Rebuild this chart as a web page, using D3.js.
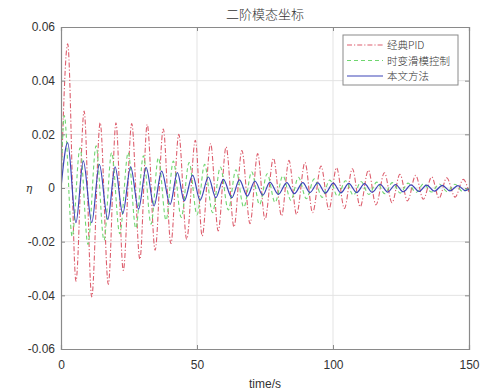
<!DOCTYPE html>
<html>
<head>
<meta charset="utf-8">
<script src="https://cdn.jsdelivr.net/npm/d3@7/dist/d3.min.js"></script>
<style>
  html, body { margin: 0; padding: 0; background: #fff; }
  svg { display: block; }
</style>
</head>
<body>
<svg id="chart" width="483" height="390"></svg>
<script>
// Axis settings
const xTicks = [0, 50, 100, 150];
const yTicks = [-0.06, -0.04, -0.02, 0, 0.02, 0.04, 0.06];
const yTickLabels = ["-0.06", "-0.04", "-0.02", "0", "0.02", "0.04", "0.06"];
const seriesNames = ["经典PID", "时变滑模控制", "本文方法"];

// 经典PID: time (s) of each turning point and the response there
const pidT = [0, 2.46, 5.5, 8.5, 11.3, 14.4, 17.4, 20.2, 22.9, 26.0, 29.0, 31.7, 34.6, 37.6, 40.4, 43.3, 46.2,
  49.4, 51.9, 55.0, 57.8, 60.7, 63.6, 66.5, 69.5, 72.3, 75.0, 78.1, 81.1, 83.8, 86.6, 89.7, 92.5,
  95.6, 98.5, 101.3, 104.2, 107.1, 110.0, 113.0, 115.8, 118.9, 121.7, 124.6, 127.4, 130.4, 133.2,
  136.3, 139.0, 141.8, 144.9, 147.9, 150];
const pidV = [0, 0.0537, -0.0347, 0.0287, -0.0406, 0.0243, -0.0359, 0.0243, -0.0307, 0.0240, -0.0266, 0.0237, -0.0232,
  0.0220, -0.0207, 0.0200, -0.0191, 0.0178, -0.0179, 0.0165, -0.0160, 0.0153, -0.0145, 0.0140, -0.0133,
  0.0128, -0.0117, 0.0111, -0.0104, 0.0103, -0.0098, 0.0095, -0.0092, 0.0082, -0.0080, 0.0076, -0.0076,
  0.0072, -0.0070, 0.0066, -0.0063, 0.0057, -0.0055, 0.0051, -0.0048, 0.0047, -0.0042, 0.0041, -0.0038,
  0.0038, -0.0034, 0.0032, -0.0015];

// 时变滑模控制
const smcT = [0, 1.2, 4.1, 7.0, 9.9, 12.9, 15.8, 18.6, 21.6, 24.7, 27.5, 30.3, 33.1, 35.8, 38.6, 41.3, 44.2,
  47.1, 50.0, 52.8, 55.7, 58.6, 61.5, 64.3, 67.2, 70.1, 73.0, 75.8, 78.7, 81.6, 84.5, 87.3, 90.2,
  93.1, 96.0, 98.8, 101.7, 104.6, 107.5, 110.3, 113.2, 116.1, 119.0, 121.8, 124.7, 127.6, 130.5,
  133.3, 136.2, 139.1, 142.0, 144.8, 147.7, 150];
const smcV = [0, 0.0270, -0.0180, 0.0150, -0.0210, 0.0157, -0.0195, 0.0132, -0.0170, 0.0132, -0.0150, 0.0120, -0.0135,
  0.0113, -0.0120, 0.0100, -0.0110, 0.0095, -0.0100, 0.0088, -0.0092, 0.0078, -0.0082, 0.0068, -0.0072,
  0.0060, -0.0062, 0.0053, -0.0054, 0.0046, -0.0046, 0.0040, -0.0040, 0.0034, -0.0035, 0.0030, -0.0031,
  0.0027, -0.0027, 0.0024, -0.0024, 0.0022, -0.0021, 0.0020, -0.0019, 0.0018, -0.0017, 0.0016, -0.0015,
  0.0015, -0.0014, 0.0014, -0.0013, 0.0004];

// 本文方法
const ourT = [0, 2.46, 5.5, 8.2, 11.3, 14.1, 17.2, 19.9, 22.7, 25.6, 28.5, 31.3, 34.2, 37.0, 40.1, 42.8, 45.3,
  48.4, 51.1, 54.2, 56.9, 59.7, 62.8, 65.6, 68.5, 71.3, 74.2, 76.8, 79.9, 83.0, 85.8, 88.9, 91.5,
  94.4, 97.2, 100.1, 102.9, 105.8, 108.7, 111.6, 114.4, 117.3, 120.1, 123.0, 125.8, 128.7, 131.6,
  134.4, 137.3, 140.2, 143.0, 145.9, 148.7, 150];
const ourV = [0, 0.0169, -0.0129, 0.0101, -0.0129, 0.0088, -0.0117, 0.0079, -0.0096, 0.0079, -0.0079, 0.0076, -0.0067,
  0.0063, -0.0061, 0.0057, -0.0048, 0.0048, -0.0046, 0.0041, -0.0036, 0.0032, -0.0036, 0.0030, -0.0030,
  0.0026, -0.0027, 0.0022, -0.0024, 0.0020, -0.0021, 0.0020, -0.0017, 0.0019, -0.0019, 0.0018, -0.0018,
  0.0017, -0.0017, 0.0016, -0.0016, 0.0014, -0.0015, 0.0013, -0.0014, 0.0012, -0.0013, 0.0011, -0.0012,
  0.0010, -0.0011, 0.0009, -0.0010, -0.0004];

const series = [
  { name: seriesNames[0], t: pidT, v: pidV, color: "#dd5f6e", dash: "5,2,1.2,2", width: 1.1 },
  { name: seriesNames[1], t: smcT, v: smcV, color: "#6fd66f", dash: "4,3", width: 1.1 },
  { name: seriesNames[2], t: ourT, v: ourV, color: "#3c44b8", dash: null, width: 1.2 }
];

const svg = d3.select("#chart");
const margin = { left: 61, right: 14, top: 27, bottom: 41 };
const W = 483, H = 390;
const x = d3.scaleLinear().domain([0, 150]).range([margin.left, W - margin.right]);
const y = d3.scaleLinear().domain([-0.06, 0.06]).range([H - margin.bottom, margin.top]);

const axisFont = "'Liberation Sans', Arial, sans-serif";
const cjkFont = "'Noto Sans CJK SC', sans-serif";

// plot background
svg.append("rect")
  .attr("x", x(0)).attr("y", y(0.06))
  .attr("width", x(150) - x(0)).attr("height", y(-0.06) - y(0.06))
  .attr("fill", "#fff");

// grid
const grid = svg.append("g").attr("stroke", "#e3e3e3").attr("stroke-width", 1);
xTicks.slice(1, -1).forEach(t => {
  grid.append("line").attr("x1", x(t)).attr("x2", x(t))
    .attr("y1", y(0.06)).attr("y2", y(-0.06));
});
yTicks.slice(1, -1).forEach(v => {
  grid.append("line").attr("x1", x(0)).attr("x2", x(150))
    .attr("y1", y(v)).attr("y2", y(v));
});

// series lines
svg.append("clipPath").attr("id", "plotclip").append("rect")
  .attr("x", x(0)).attr("y", y(0.06))
  .attr("width", x(150) - x(0)).attr("height", y(-0.06) - y(0.06));

const lineGen = d3.line()
  .x(d => x(d[0]))
  .y(d => y(d[1]))
  .curve(d3.curveMonotoneX);

const lines = svg.append("g").attr("clip-path", "url(#plotclip)");
series.forEach(s => {
  const pts = s.t.map((t, i) => [t, s.v[i]]);
  lines.append("path")
    .attr("d", lineGen(pts))
    .attr("fill", "none")
    .attr("stroke", s.color)
    .attr("stroke-width", s.width)
    .attr("stroke-dasharray", s.dash)
    .attr("stroke-linejoin", "round");
});

// axes (box with inward ticks)
const axisColor = "#8a8a8a";
const bottomAxis = d3.axisBottom(x).tickValues(xTicks).tickSize(-4).tickPadding(11).tickFormat(d3.format("d"));
const leftAxis = d3.axisLeft(y).tickValues(yTicks).tickSize(-4).tickPadding(6)
  .tickFormat((d, i) => yTickLabels[i]);
const topAxis = d3.axisTop(x).tickValues(xTicks).tickSize(-4).tickFormat("");
const rightAxis = d3.axisRight(y).tickValues(yTicks).tickSize(-4).tickFormat("");

function styleAxis(g) {
  g.select(".domain").attr("stroke", axisColor).attr("stroke-width", 1.2);
  g.selectAll(".tick line").attr("stroke", axisColor);
  g.selectAll(".tick text").attr("fill", "#333").attr("font-family", axisFont).attr("font-size", 12);
}

svg.append("g").attr("transform", `translate(0,${y(-0.06)})`).call(bottomAxis).call(styleAxis);
svg.append("g").attr("transform", `translate(${x(0)},0)`).call(leftAxis).call(styleAxis);
svg.append("g").attr("transform", `translate(0,${y(0.06)})`).call(topAxis).call(styleAxis);
svg.append("g").attr("transform", `translate(${x(150)},0)`).call(rightAxis).call(styleAxis);

// title and axis labels
svg.append("text")
  .attr("x", (x(0) + x(150)) / 2).attr("y", 19)
  .attr("text-anchor", "middle")
  .attr("font-family", cjkFont).attr("font-weight", 300).attr("font-size", 13)
  .attr("fill", "#333")
  .text("二阶模态坐标");

svg.append("text")
  .attr("x", (x(0) + x(150)) / 2).attr("y", 388)
  .attr("text-anchor", "middle")
  .attr("font-family", axisFont).attr("font-size", 12)
  .attr("fill", "#333")
  .text("time/s");

svg.append("text")
  .attr("x", 29).attr("y", y(0) + 4)
  .attr("text-anchor", "middle")
  .attr("font-family", "'DejaVu Serif', serif").attr("font-style", "italic").attr("font-size", 11)
  .attr("fill", "#333")
  .text("η");

// legend
const rowGap = 15.5;
const lg = svg.append("g").attr("transform", "translate(343,35)");
lg.append("rect").attr("width", 115).attr("height", 50)
  .attr("fill", "#fff").attr("stroke", "#8a8a8a").attr("stroke-width", 1);
series.forEach((s, i) => {
  const yy = 10 + i * rowGap;
  lg.append("line").attr("x1", 4).attr("x2", 40).attr("y1", yy).attr("y2", yy)
    .attr("stroke", s.color).attr("stroke-width", s.width)
    .attr("stroke-dasharray", s.dash);
  lg.append("text").attr("x", 44).attr("y", yy + 4)
    .attr("font-family", cjkFont).attr("font-size", 10.5).attr("font-weight", 300)
    .attr("fill", "#333")
    .text(s.name);
});
</script>
</body>
</html>
